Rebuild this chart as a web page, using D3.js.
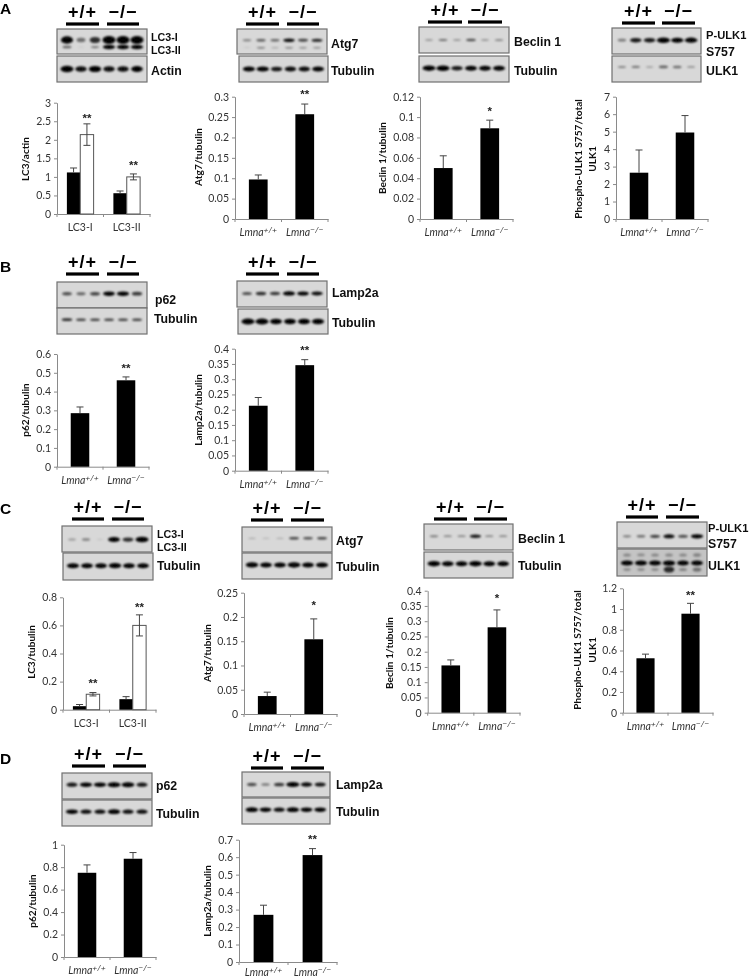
<!DOCTYPE html>
<html>
<head>
  <meta charset="utf-8">
  <script src="https://d3js.org/d3.v7.min.js"></script>
  <style>
    html, body { margin: 0; padding: 0; background: #fff; }
    svg { display: block; }
    .axis text { font-family: Lato, sans-serif; font-size: 10.5px; fill: #333; }
    .axis path, .axis line { stroke: #8a8a8a; stroke-width: 1; }
    .ytitle { font-family: Lato, sans-serif; font-size: 10.1px; font-weight: 700; fill: #111; text-anchor: middle; }
    .blotlabel { font-family: "Liberation Sans", sans-serif; font-weight: 700; font-size: 12.3px; fill: #111; }
    .geno { font-family: "Liberation Sans", sans-serif; font-weight: 700; font-size: 18px; letter-spacing: 1px; fill: #000; text-anchor: middle; }
    .letter { font-family: "Liberation Sans", sans-serif; font-weight: 700; font-size: 15.5px; fill: #000; }
    .star { font-family: "Liberation Sans", sans-serif; font-weight: 700; font-size: 11.5px; fill: #222; text-anchor: middle; }
  </style>
</head>
<body>
<script type="text/javascript">
// ---- values ----
var genotypes = ["Lmna+/+", "Lmna-/-"];
var lc3Cats = ["LC3-I", "LC3-II"];

// bar values, errors and y tick labels, one set per panel
var a1Black = [1.12, 0.56], a1BlackErr = [0.12, 0.06], a1White = [2.14, 1.0], a1WhiteErr = [0.29, 0.08];
var a1Ticks = [0, 0.5, 1, 1.5, 2, 2.5, 3];
var a2Vals = [0.097, 0.257], a2Err = [0.011, 0.025], a2Ticks = [0, 0.05, 0.1, 0.15, 0.2, 0.25, 0.3];
var a3Vals = [0.05, 0.089], a3Err = [0.012, 0.008], a3Ticks = [0, 0.02, 0.04, 0.06, 0.08, 0.1, 0.12];
var a4Vals = [2.65, 4.95], a4Err = [1.3, 0.97], a4Ticks = [0, 1, 2, 3, 4, 5, 6, 7];
var b1Vals = [0.285, 0.46], b1Err = [0.033, 0.018], b1Ticks = [0, 0.1, 0.2, 0.3, 0.4, 0.5, 0.6];
var b2Vals = [0.213, 0.346], b2Err = [0.027, 0.018], b2Ticks = [0, 0.05, 0.1, 0.15, 0.2, 0.25, 0.3, 0.35, 0.4];
var c1Black = [0.025, 0.075], c1BlackErr = [0.012, 0.018], c1White = [0.11, 0.6], c1WhiteErr = [0.012, 0.075];
var c1Ticks = [0, 0.2, 0.4, 0.6, 0.8];
var c2Vals = [0.037, 0.154], c2Err = [0.008, 0.042], c2Ticks = [0, 0.05, 0.1, 0.15, 0.2, 0.25];
var c3Vals = [0.155, 0.28], c3Err = [0.018, 0.057], c3Ticks = [0, 0.05, 0.1, 0.15, 0.2, 0.25, 0.3, 0.35, 0.4];
var c4Vals = [0.525, 0.955], c4Err = [0.04, 0.1], c4Ticks = [0, 0.2, 0.4, 0.6, 0.8, 1, 1.2];
var d1Vals = [0.75, 0.875], d1Err = [0.07, 0.055], d1Ticks = [0, 0.2, 0.4, 0.6, 0.8, 1];
var d2Vals = [0.27, 0.612], d2Err = [0.055, 0.037], d2Ticks = [0, 0.1, 0.2, 0.3, 0.4, 0.5, 0.6, 0.7];

// band strength per lane (0-1), six lanes per blot
var a1Lc3i = [0.85, 0.3, 0.6, 1, 1, 1], a1Lc3ii = [0.35, 0.02, 0.25, 0.9, 0.9, 0.9], a1Actin = [1, 0.75, 0.9, 0.75, 0.75, 0.8];
var a2Atg7 = [0.25, 0.4, 0.35, 0.75, 0.5, 0.65], a2Atg7Low = [0.06, 0.3, 0.15, 0.25, 0.2, 0.2], a2Tub = [0.85, 0.9, 0.7, 0.75, 0.75, 0.8];
var a3Bec = [0.2, 0.3, 0.2, 0.45, 0.2, 0.25], a3Tub = [0.95, 1, 0.7, 0.8, 0.8, 0.8];
var a4Pulk = [0.25, 0.7, 0.7, 1, 0.85, 0.9], a4Ulk = [0.2, 0.25, 0.12, 0.35, 0.3, 0.15];
var b1P62 = [0.45, 0.35, 0.5, 0.8, 0.85, 0.55], b1Tub = [0.6, 0.5, 0.5, 0.5, 0.5, 0.5];
var b2Lamp = [0.45, 0.6, 0.55, 0.9, 0.8, 0.75], b2Tub = [1, 1, 0.8, 0.8, 0.85, 0.85];
var c1Lc3 = [0.12, 0.22, 0.02, 0.8, 0.6, 1], c1Tub = [0.85, 0.8, 0.8, 0.9, 0.8, 0.8];
var c2Atg7 = [0.12, 0.05, 0.1, 0.5, 0.45, 0.5], c2Tub = [0.9, 0.8, 0.8, 0.95, 0.8, 0.85];
var c3Bec = [0.25, 0.2, 0.2, 0.7, 0.2, 0.2], c3Tub = [0.95, 0.8, 0.8, 0.95, 0.8, 0.8];
var c4Pulk = [0.25, 0.3, 0.5, 0.75, 0.45, 0.9], c4Ulk = [0.85, 0.85, 0.85, 0.9, 0.8, 0.8];
var c4UlkHigh = [0.12, 0.1, 0.12, 0.12, 0.12, 0.15], c4UlkLow = [0.12, 0.12, 0.12, 0.6, 0.15, 0.25];
var d1P62 = [0.7, 0.85, 0.85, 1, 0.95, 0.7], d1Tub = [0.85, 0.75, 0.75, 0.9, 0.75, 0.75];
var d2Lamp = [0.45, 0.25, 0.55, 1, 0.75, 0.7], d2Tub = [0.9, 0.8, 0.75, 0.9, 0.8, 0.8];

// ---- layout ----
var svgRoot = d3.select("body").append("svg").attr("width", 750).attr("height", 979);
var defs = svgRoot.append("defs");
defs.append("filter").attr("id", "soft").attr("x", "-30%").attr("y", "-100%").attr("width", "160%").attr("height", "300%")
  .append("feGaussianBlur").attr("stdDeviation", "1.1 0.8");
// the source figure is a soft jpeg, keep everything a touch out of focus
defs.append("filter").attr("id", "page").attr("filterUnits", "userSpaceOnUse")
  .attr("x", 0).attr("y", 0).attr("width", 750).attr("height", 979)
  .append("feGaussianBlur").attr("stdDeviation", 0.35);
var svg = svgRoot.append("g").attr("filter", "url(#page)");
svg.append("rect").attr("width", 750).attr("height", 979).attr("fill", "#fff");

var panels = [
  // x0,x1 = axis ends, y0,y1 = zero and top of the y axis
  { x0: 57, x1: 150, y0: 214, y1: 102.7, ticks: a1Ticks, cats: lc3Cats, black: a1Black, blackErr: a1BlackErr, white: a1White, whiteErr: a1WhiteErr,
    title: ["LC3/actin"], tx: [25], ty: 159, stars: ["**", "**"], gap: [7, 10] },
  { x0: 235, x1: 328, y0: 219, y1: 96.7, ticks: a2Ticks, black: a2Vals, blackErr: a2Err, title: ["Atg7/tubulin"], tx: [198], ty: 157, stars: ["", "**"], gap: [0, 12] },
  { x0: 420, x1: 513, y0: 219, y1: 96.7, ticks: a3Ticks, black: a3Vals, blackErr: a3Err, title: ["Beclin 1/tubulin"], tx: [382], ty: 158, stars: ["", "*"], gap: [0, 11] },
  { x0: 616, x1: 708, y0: 219, y1: 96.7, ticks: a4Ticks, black: a4Vals, blackErr: a4Err, title: ["Phospho-ULK1 S757/total", "ULK1"], tx: [578, 592], ty: 159, stars: ["", ""], gap: [0, 0] },
  { x0: 57, x1: 149, y0: 466.7, y1: 354, ticks: b1Ticks, black: b1Vals, blackErr: b1Err, title: ["p62/tubulin"], tx: [25], ty: 410, stars: ["", "**"], gap: [0, 10] },
  { x0: 235, x1: 328, y0: 470.7, y1: 348.7, ticks: b2Ticks, black: b2Vals, blackErr: b2Err, title: ["Lamp2a/tubulin"], tx: [198], ty: 410, stars: ["", "**"], gap: [0, 11] },
  { x0: 63, x1: 156, y0: 709.7, y1: 597.3, ticks: c1Ticks, cats: lc3Cats, black: c1Black, blackErr: c1BlackErr, white: c1White, whiteErr: c1WhiteErr,
    title: ["LC3/tubulin"], tx: [31], ty: 652, stars: ["**", "**"], gap: [11, 9] },
  { x0: 244, x1: 337, y0: 714, y1: 592.7, ticks: c2Ticks, black: c2Vals, blackErr: c2Err, title: ["Atg7/tubulin"], tx: [207], ty: 653, stars: ["", "*"], gap: [0, 15] },
  { x0: 427.7, x1: 520, y0: 712.7, y1: 590.7, ticks: c3Ticks, black: c3Vals, blackErr: c3Err, title: ["Beclin 1/tubulin"], tx: [389], ty: 653, stars: ["", "*"], gap: [0, 13] },
  { x0: 623, x1: 713, y0: 712.7, y1: 588.3, ticks: c4Ticks, black: c4Vals, blackErr: c4Err, title: ["Phospho-ULK1 S757/total", "ULK1"], tx: [577, 592], ty: 650, stars: ["", "**"], gap: [0, 10] },
  { x0: 64, x1: 156, y0: 957, y1: 844.7, ticks: d1Ticks, black: d1Vals, blackErr: d1Err, title: ["p62/tubulin"], tx: [32], ty: 901, stars: ["", ""], gap: [0, 0] },
  { x0: 239, x1: 337, y0: 962, y1: 839.7, ticks: d2Ticks, black: d2Vals, blackErr: d2Err, title: ["Lamp2a/tubulin"], tx: [207], ty: 901, stars: ["", "**"], gap: [0, 11], labelPad: 7 }
];

var blots = [
  { x: 57, y: 29, w: 90, h: 25, rows: [0.44, 0.72], bands: [a1Lc3i, a1Lc3ii], thick: [8, 4.5] },
  { x: 57, y: 56, w: 90, h: 26, rows: [0.5], bands: [a1Actin], thick: [6.5] },
  { x: 237, y: 29, w: 90, h: 25, rows: [0.45, 0.75], bands: [a2Atg7, a2Atg7Low], thick: [4, 3] },
  { x: 239, y: 56, w: 89, h: 26, rows: [0.5], bands: [a2Tub], thick: [5.5] },
  { x: 419, y: 27, w: 90, h: 26, rows: [0.5], bands: [a3Bec], thick: [3.5] },
  { x: 419, y: 56, w: 90, h: 26, rows: [0.47], bands: [a3Tub], thick: [5.5] },
  { x: 612, y: 28, w: 89, h: 26, rows: [0.47], bands: [a4Pulk], thick: [5.5] },
  { x: 612, y: 56, w: 89, h: 26, rows: [0.42], bands: [a4Ulk], thick: [4.5] },
  { x: 57, y: 282, w: 90, h: 26, rows: [0.45], bands: [b1P62], thick: [5] },
  { x: 57, y: 308, w: 90, h: 26, rows: [0.45], bands: [b1Tub], thick: [3.5] },
  { x: 237, y: 281, w: 90, h: 26, rows: [0.48], bands: [b2Lamp], thick: [4.5] },
  { x: 238, y: 309, w: 90, h: 25, rows: [0.5], bands: [b2Tub], thick: [6] },
  { x: 62, y: 526, w: 90, h: 26, rows: [0.52], bands: [c1Lc3], thick: [5.5] },
  { x: 63, y: 553, w: 90, h: 27, rows: [0.47], bands: [c1Tub], thick: [5.5] },
  { x: 242, y: 527, w: 90, h: 25, rows: [0.45], bands: [c2Atg7], thick: [3.5] },
  { x: 242, y: 553, w: 90, h: 26, rows: [0.46], bands: [c2Tub], thick: [5.5] },
  { x: 424, y: 524, w: 89, h: 26, rows: [0.47], bands: [c3Bec], thick: [4] },
  { x: 424, y: 552, w: 89, h: 26, rows: [0.45], bands: [c3Tub], thick: [5.5] },
  { x: 617, y: 522, w: 90, h: 26, rows: [0.55], bands: [c4Pulk], thick: [4.5] },
  { x: 617, y: 549, w: 90, h: 27, rows: [0.22, 0.52, 0.76], bands: [c4UlkHigh, c4Ulk, c4UlkLow], thick: [9, 5.5, 8], fill: "#c4c4c4" },
  { x: 62, y: 773, w: 90, h: 26, rows: [0.45], bands: [d1P62], thick: [5] },
  { x: 62, y: 800, w: 90, h: 26, rows: [0.45], bands: [d1Tub], thick: [5] },
  { x: 242, y: 772, w: 88, h: 25, rows: [0.5], bands: [d2Lamp], thick: [5] },
  { x: 242, y: 798, w: 88, h: 26, rows: [0.45], bands: [d2Tub], thick: [5] }
];

var blotLabels = [
  ["LC3-I", 151, 37, 10.7], ["LC3-II", 151, 50, 10.7], ["Actin", 151, 71], ["Atg7", 331, 44], ["Tubulin", 331, 71],
  ["Beclin 1", 514, 42], ["Tubulin", 514, 71], ["P-ULK1", 706, 35, 11.2], ["S757", 706, 52], ["ULK1", 706, 71],
  ["p62", 155, 300], ["Tubulin", 154, 319], ["Lamp2a", 332, 293], ["Tubulin", 332, 323],
  ["LC3-I", 157, 534, 10.7], ["LC3-II", 157, 547, 10.7], ["Tubulin", 157, 566], ["Atg7", 336, 541], ["Tubulin", 336, 567],
  ["Beclin 1", 518, 539], ["Tubulin", 518, 566], ["P-ULK1", 708, 528, 11.2], ["S757", 708, 544], ["ULK1", 708, 566],
  ["p62", 156, 786], ["Tubulin", 156, 814], ["Lamp2a", 336, 785], ["Tubulin", 336, 812]
];

// genotype headers: left bar start/end, right bar start/end, bar y
var headers = [
  [66, 99, 107, 139, 24], [246, 279, 287, 319, 24], [428, 462, 468, 502, 22], [622, 655, 662, 695, 23],
  [66, 99, 107, 139, 274], [246, 279, 287, 319, 274],
  [72, 104, 112, 144, 519], [251, 283, 291, 324, 520], [434, 467, 474, 507, 519], [626, 658, 666, 699, 517],
  [72, 105, 113, 146, 766], [251, 283, 291, 324, 768]
];

var letters = [["A", 0, 14], ["B", 0, 272], ["C", 0, 514], ["D", 0, 764]];

// ---- drawing ----
svg.selectAll(".letter").data(letters).enter().append("text").attr("class", "letter")
  .attr("x", function (d) { return d[1]; }).attr("y", function (d) { return d[2]; })
  .text(function (d) { return d[0]; });

headers.forEach(function (h) {
  var g = svg.append("g");
  [[h[0], h[1], "+/+"], [h[2], h[3], "\u2212/\u2212"]].forEach(function (b) {
    g.append("rect").attr("x", b[0]).attr("y", h[4] - 1.6).attr("width", b[1] - b[0]).attr("height", 3.2).attr("fill", "#000");
    g.append("text").attr("class", "geno").attr("x", (b[0] + b[1]) / 2).attr("y", h[4] - 6).text(b[2]);
  });
});

blots.forEach(function (b) {
  var g = svg.append("g");
  g.append("rect").attr("x", b.x).attr("y", b.y).attr("width", b.w).attr("height", b.h)
    .attr("fill", b.fill || "#d8d8d8").attr("stroke", "#707070").attr("stroke-width", 1.2);
  var lane = d3.scaleBand().domain(d3.range(6)).range([b.x + 3, b.x + b.w - 3]);
  var row = d3.scaleLinear().domain([0, 1]).range([b.y, b.y + b.h]);
  b.bands.forEach(function (vals, r) {
    g.append("g").attr("filter", "url(#soft)").selectAll("ellipse").data(vals).enter().append("ellipse")
      .attr("cx", function (d, i) { return lane(i) + lane.bandwidth() / 2; })
      .attr("cy", row(b.rows[r]))
      .attr("rx", function (d) { return 3.5 + 3 * d; })
      .attr("ry", function (d) { return b.thick[r] / 2 * Math.sqrt(d); })
      .attr("fill", "#000")
      .attr("opacity", function (d) { return Math.min(1, 0.2 + d); });
  });
});

svg.selectAll(".blotlabel").data(blotLabels).enter().append("text").attr("class", "blotlabel")
  .attr("x", function (d) { return d[1]; }).attr("y", function (d) { return d[2]; })
  .attr("dy", "0.35em")
  .style("font-size", function (d) { return d[3] ? d[3] + "px" : null; })
  .text(function (d) { return d[0]; });

panels.forEach(function (p) {
  var g = svg.append("g");
  var cats = p.cats || genotypes;
  var x = d3.scaleBand().domain(cats).range([p.x0, p.x1]);
  var y = d3.scaleLinear().domain([0, p.ticks[p.ticks.length - 1]]).range([p.y0, p.y1]);
  var series = p.white ? ["black", "white"] : ["black"];
  var inner = d3.scaleBand().domain(series).range([0, x.bandwidth()]).paddingOuter(0.74);

  var yAxis = d3.axisLeft(y).tickValues(p.ticks).tickFormat(function (d) { return String(d); }).tickSize(3).tickSizeOuter(0).tickPadding(3);
  g.append("g").attr("class", "axis").attr("transform", "translate(" + p.x0 + ",0)").call(yAxis);

  var xAxis = d3.axisBottom(x).tickSize(0).tickPadding(p.labelPad || 10);
  var xg = g.append("g").attr("class", "axis").attr("transform", "translate(0," + p.y0 + ")").call(xAxis);
  // ticks sit between the groups, not under them
  xg.selectAll(".edge").data([p.x0, (p.x0 + p.x1) / 2, p.x1]).enter().append("line").attr("class", "edge")
    .attr("x1", function (d) { return d; }).attr("x2", function (d) { return d; }).attr("y1", 0).attr("y2", 3);
  if (!p.cats) {
    xg.selectAll(".tick text").each(function (d) {
      var t = d3.select(this).text("").style("font-style", "italic");
      t.append("tspan").text("Lmna");
      t.append("tspan").attr("dy", "-3").style("font-size", "8.5px").text(d === genotypes[0] ? "+/+" : "\u2212/\u2212");
    });
  }

  series.forEach(function (s) {
    var vals = p[s], errs = p[s + "Err"];
    var mx = function (i) { return x(cats[i]) + inner(s); };
    var w = inner.bandwidth();
    var sg = g.append("g");
    sg.selectAll("rect").data(vals).enter().append("rect")
      .attr("x", function (d, i) { return mx(i); })
      .attr("y", function (d) { return y(d); })
      .attr("width", w)
      .attr("height", function (d) { return y(0) - y(d); })
      .attr("fill", s === "white" ? "#fff" : "#000")
      .attr("stroke", s === "white" ? "#555" : "none");
    var lowFactor = s === "white" ? 1 : 0;
    var eg = sg.selectAll(".err").data(vals).enter().append("g").attr("stroke", "#444").attr("stroke-width", 1);
    eg.append("line")
      .attr("x1", function (d, i) { return mx(i) + w / 2; }).attr("x2", function (d, i) { return mx(i) + w / 2; })
      .attr("y1", function (d, i) { return y(d - lowFactor * errs[i]); })
      .attr("y2", function (d, i) { return y(d + errs[i]); });
    eg.append("line")
      .attr("x1", function (d, i) { return mx(i) + w / 2 - 3.5; }).attr("x2", function (d, i) { return mx(i) + w / 2 + 3.5; })
      .attr("y1", function (d, i) { return y(d + errs[i]); }).attr("y2", function (d, i) { return y(d + errs[i]); });
    if (s === "white") {
      eg.append("line")
        .attr("x1", function (d, i) { return mx(i) + w / 2 - 3.5; }).attr("x2", function (d, i) { return mx(i) + w / 2 + 3.5; })
        .attr("y1", function (d, i) { return y(d - errs[i]); }).attr("y2", function (d, i) { return y(d - errs[i]); });
    }
  });

  // significance stars go over the last series of each group
  var top = p.white ? "white" : "black";
  p.stars.forEach(function (st, i) {
    if (!st) return;
    g.append("text").attr("class", "star")
      .attr("x", x(cats[i]) + inner(top) + inner.bandwidth() / 2)
      .attr("y", y(p[top][i] + p[top + "Err"][i]) - p.gap[i] + 5.5)
      .text(st);
  });

  p.title.forEach(function (t, i) {
    g.append("text").attr("class", "ytitle")
      .attr("transform", "translate(" + p.tx[i] + "," + p.ty + ") rotate(-90)")
      .attr("dy", "0.35em").text(t);
  });
});
</script>
</body>
</html>
